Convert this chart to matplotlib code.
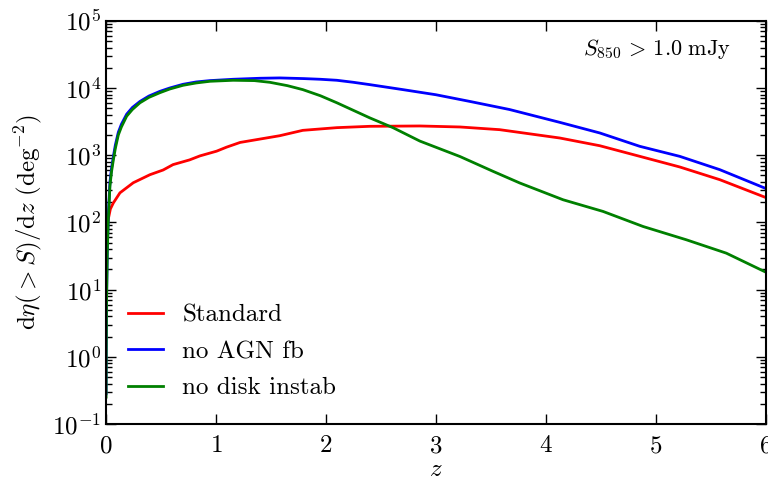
import numpy as np
import matplotlib
matplotlib.use("Agg")
import matplotlib.pyplot as plt
from matplotlib.ticker import LogLocator, FixedLocator

plt.rcParams.update({
    "font.family": "serif",
    "font.serif": ["cmr10"],
    "mathtext.fontset": "cm",
    "axes.formatter.use_mathtext": True,
    "axes.unicode_minus": False,
    "font.size": 18,
})

# log10 of dη(>S)/dz for each model, sampled in redshift
z_standard = [0.001, 0.004, 0.012, 0.021, 0.04, 0.067, 0.127, 0.248, 0.40, 0.52,
              0.61, 0.76, 0.855, 1.006, 1.097, 1.22, 1.40, 1.58, 1.79, 2.10,
              2.40, 2.855, 3.22, 3.58, 4.127, 4.491, 4.855, 5.218, 5.582, 5.99]
log_standard = [1.3, 1.75, 1.95, 2.05, 2.2, 2.29, 2.44, 2.59, 2.71, 2.78,
                2.86, 2.93, 2.99, 3.06, 3.12, 3.19, 3.24, 3.29, 3.37, 3.41,
                3.43, 3.435, 3.42, 3.38, 3.256, 3.141, 2.983, 2.825, 2.636, 2.377]

z_noagn = [0.001, 0.002, 0.005, 0.012, 0.021, 0.036, 0.05, 0.067, 0.085, 0.112,
           0.14, 0.188, 0.24, 0.309, 0.39, 0.49, 0.58, 0.70, 0.82, 0.945,
           1.157, 1.4, 1.58, 1.8, 1.95, 2.10, 2.25, 2.40, 2.70, 3.0,
           3.31, 3.67, 4.127, 4.491, 4.855, 5.218, 5.582, 5.99]
log_noagn = [-0.55, 0.05, 0.85, 1.6, 2.1, 2.6, 2.8, 2.98, 3.15, 3.34,
             3.46, 3.61, 3.71, 3.8, 3.88, 3.95, 4.0, 4.055, 4.09, 4.11,
             4.13, 4.145, 4.15, 4.14, 4.13, 4.115, 4.085, 4.05, 3.976, 3.90,
             3.80, 3.68, 3.489, 3.331, 3.132, 2.983, 2.785, 2.512]

z_nodisk = [0.001, 0.002, 0.005, 0.012, 0.021, 0.036, 0.05, 0.067, 0.085, 0.112,
            0.14, 0.188, 0.24, 0.309, 0.39, 0.49, 0.58, 0.70, 0.82, 0.945,
            1.157, 1.35, 1.49, 1.65, 1.79, 1.95, 2.10, 2.40, 2.61, 2.855,
            3.22, 3.52, 3.764, 4.157, 4.521, 4.885, 5.279, 5.642, 5.99]
log_nodisk = [-0.6, 0.0, 0.79, 1.55, 2.04, 2.54, 2.75, 2.93, 3.10, 3.30,
              3.42, 3.58, 3.68, 3.78, 3.86, 3.93, 3.985, 4.04, 4.075, 4.10,
              4.115, 4.11, 4.085, 4.035, 3.976, 3.885, 3.78, 3.555, 3.41, 3.21,
              2.98, 2.76, 2.586, 2.337, 2.163, 1.939, 1.741, 1.542, 1.268]

series = [
    ("Standard", z_standard, log_standard, "r"),
    ("no AGN fb", z_noagn, log_noagn, "b"),
    ("no disk instab", z_nodisk, log_nodisk, "g"),
]

fig = plt.figure(figsize=(7.68, 4.84), dpi=100)
ax = fig.add_axes([0.138, 0.124, 0.859, 0.833])

for label, z, logv, color in series:
    ax.plot(z, 10 ** np.asarray(logv), color=color, lw=2, label=label)

ax.set_yscale("log")
ax.set_xlim(0, 6)
ax.set_ylim(1e-1, 1e5)
ax.xaxis.set_major_locator(FixedLocator([0, 1, 2, 3, 4, 5, 6]))
ax.yaxis.set_major_locator(LogLocator(base=10, numticks=10))
ax.yaxis.set_minor_locator(LogLocator(base=10, subs=np.arange(2, 10), numticks=20))

ax.tick_params(which="both", direction="in", top=True, right=True, labelsize=18)
ax.tick_params(which="major", length=7, width=1)
ax.tick_params(which="minor", length=4, width=1)
ax.tick_params(axis="x", pad=8)
for sp in ax.spines.values():
    sp.set_linewidth(1.5)

ax.set_xlabel(r"$z$", fontsize=18, labelpad=1)
ax.set_ylabel(r"$\mathrm{d}\eta(>S)/\mathrm{d}z\ (\mathrm{deg}^{-2})$", fontsize=18, labelpad=6)

ax.text(0.948, 0.93, r"$S_{850}\,>\,1.0\ \mathrm{mJy}$", transform=ax.transAxes,
        ha="right", va="center", fontsize=16)

ax.legend(loc="lower left", bbox_to_anchor=(0.0, 0.005), frameon=False,
          handlelength=1.4, handletextpad=0.75, labelspacing=0.55, fontsize=18)

fig.savefig("out.png", dpi=100)
